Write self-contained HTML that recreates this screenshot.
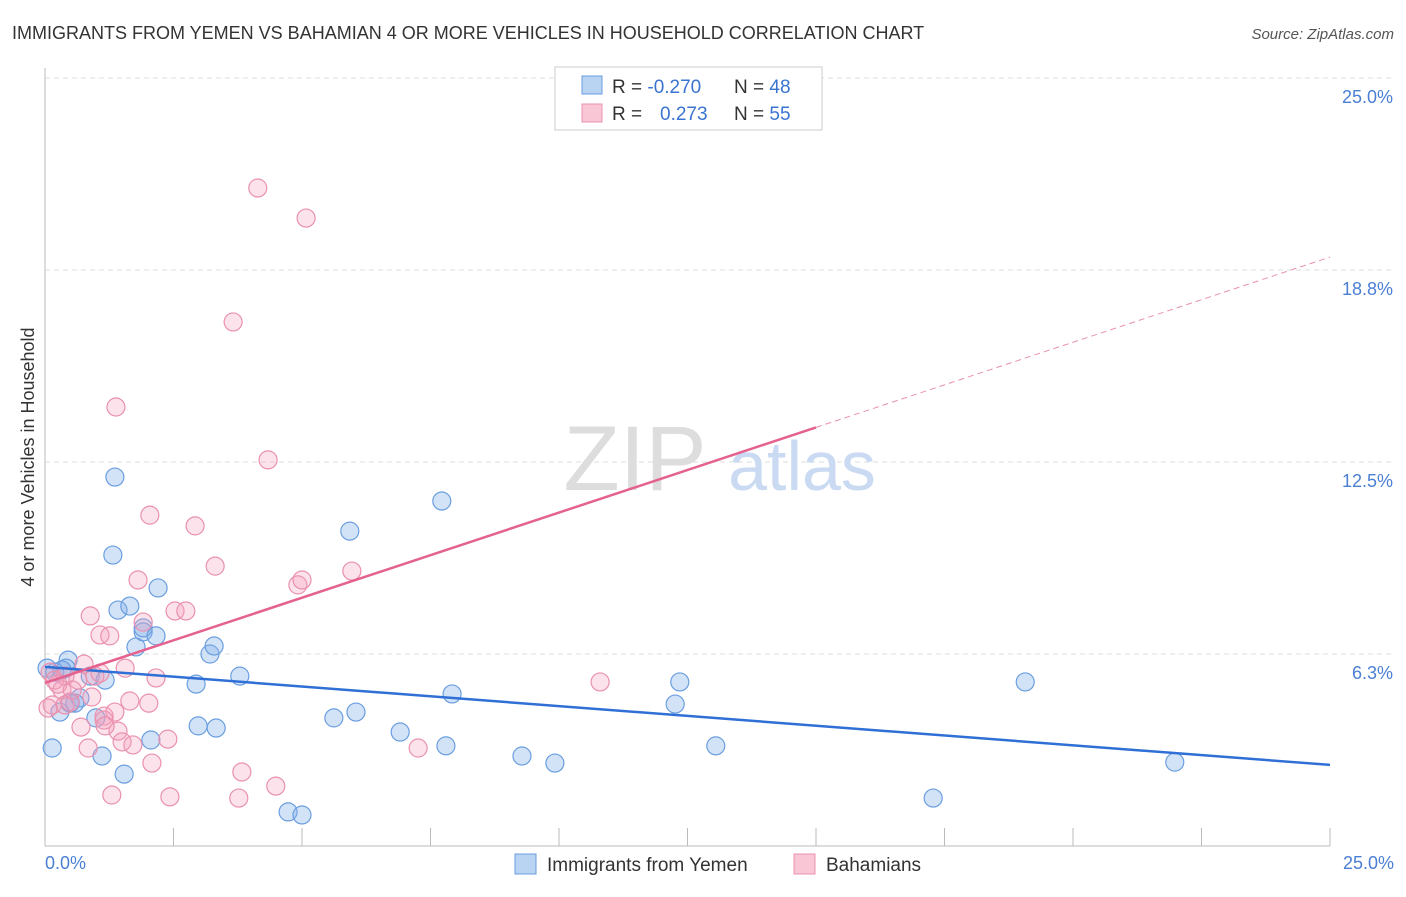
<!DOCTYPE html>
<html><head><meta charset="utf-8"><style>
body{margin:0;background:#fff;font-family:"Liberation Sans",sans-serif}
svg text{font-family:"Liberation Sans",sans-serif}
</style></head><body>
<svg id="chart" width="1406" height="892">
<text x="12" y="39" font-size="18" fill="#333">IMMIGRANTS FROM YEMEN VS BAHAMIAN 4 OR MORE VEHICLES IN HOUSEHOLD CORRELATION CHART</text>
<text x="1394" y="39" font-size="15" fill="#555" font-style="italic" text-anchor="end">Source: ZipAtlas.com</text>
<g id="grid"></g>
<g><text x="635" y="490" font-size="92" fill="#ddd" font-family="Liberation Serif" text-anchor="middle">ZIP</text><text x="802" y="490" font-size="70" fill="#c9daf2" text-anchor="middle">atlas</text></g>
<line x1="45" y1="68" x2="45" y2="846" stroke="#bbb"/>
<line x1="45" y1="846" x2="1330" y2="846" stroke="#bbb"/>
<g id="yticks"></g>
<g id="xticks"></g>
<text x="45" y="869" font-size="18" fill="#4a7fd4">0.0%</text>
<text x="1394" y="869" font-size="18" fill="#4a7fd4" text-anchor="end">25.0%</text>
<text transform="translate(34,457) rotate(-90)" font-size="18" fill="#333" text-anchor="middle">4 or more Vehicles in Household</text>
<g id="pts"></g>
<g id="trends"></g>
<g>
<rect x="555" y="67" width="267" height="63" fill="#fff" stroke="#ccc"/>
<rect x="582" y="76" width="20" height="18" fill="#b9d3f3" stroke="#6a9ee0"/>
<rect x="582" y="104" width="20" height="18" fill="#f9c6d6" stroke="#e991ae"/>
<text x="612" y="93" font-size="19" fill="#333">R = <tspan fill="#3a74d0">-0.270</tspan></text>
<text x="734" y="93" font-size="19" fill="#333">N = <tspan fill="#3a74d0">48</tspan></text>
<text x="612" y="120" font-size="19" fill="#333">R = <tspan fill="#3a74d0" x="660">0.273</tspan></text>
<text x="734" y="120" font-size="19" fill="#333">N = <tspan fill="#3a74d0">55</tspan></text>
</g>
<g>
<rect x="515" y="854" width="21" height="20" fill="#b9d3f3" stroke="#6a9ee0"/>
<text x="547" y="871" font-size="19" fill="#333">Immigrants from Yemen</text>
<rect x="794" y="854" width="21" height="20" fill="#f9c6d6" stroke="#e991ae"/>
<text x="826" y="871" font-size="19" fill="#333">Bahamians</text>
</g>
</svg>
<script>
const yTicks=[6.25,12.5,18.75,25];
const yTickLabels=["6.3%","12.5%","18.8%","25.0%"];
const xTickVals=[0,2.5,5,7.5,10,12.5,15,17.5,20,22.5,25];
const yemenX=[0.04,0.19,0.29,0.14,0.45,0.41,0.68,0.58,0.88,0.99,1.11,1.17,1.32,1.36,1.42,1.54,1.65,1.77,1.91,1.91,2.06,2.16,2.20,2.94,2.98,3.21,3.29,3.33,3.79,4.73,5.00,5.62,5.93,6.05,6.91,7.72,7.80,7.92,9.28,9.92,12.26,12.35,13.05,17.28,19.07,21.98,0.33,0.49];
const yemenY=[5.79,5.66,4.36,3.19,6.05,5.79,4.82,4.65,5.53,4.17,2.93,5.40,9.47,12.01,7.68,2.34,7.81,6.48,6.97,7.10,3.45,6.84,8.40,5.27,3.91,6.25,6.51,3.84,5.53,1.11,1.01,4.17,10.25,4.36,3.71,11.23,3.26,4.95,2.93,2.70,4.62,5.34,3.26,1.56,5.34,2.73,5.73,4.65];
const bahX=[4.14,5.08,3.66,1.38,4.34,2.04,2.92,3.31,1.81,4.92,5.00,5.97,0.88,1.91,2.53,2.74,1.07,1.26,0.76,1.56,2.16,10.80,0.10,0.19,0.39,0.64,0.97,1.07,0.33,0.14,0.91,1.65,2.02,0.39,0.49,0.70,1.15,1.36,1.42,1.15,1.50,1.71,2.39,2.08,0.84,3.83,4.49,1.30,2.43,3.77,7.26,0.06,0.25,0.53,1.17];
const bahY=[21.42,20.44,17.06,14.29,12.57,10.77,10.42,9.11,8.66,8.50,8.66,8.95,7.49,7.29,7.65,7.65,6.87,6.84,5.92,5.79,5.47,5.34,5.66,5.40,5.53,5.40,5.53,5.63,5.08,4.59,4.85,4.72,4.65,4.59,4.69,3.87,4.23,4.36,3.74,4.10,3.39,3.29,3.48,2.70,3.19,2.41,1.95,1.66,1.60,1.56,3.19,4.49,5.27,5.08,3.91];
const yemenTrend=[5.83,2.64];
const bahTrend=[5.31,19.17];
const bahSolidEnd=15;
const NS="http://www.w3.org/2000/svg";
const sx=v=>45+v*51.4, sy=v=>846-v*30.72;
function mk(t,a,p){const e=document.createElementNS(NS,t);for(const k in a)e.setAttribute(k,a[k]);document.getElementById(p).appendChild(e);return e;}
yTicks.forEach((v,i)=>{
 const l=mk('line',{x1:45,x2:1394,y1:sy(v),y2:sy(v),stroke:'#ddd','stroke-dasharray':'5,4'},'grid');
 
 
 const t=mk('text',{x:1393,y:sy(v)+25,'font-size':18,fill:'#4a7fd4','text-anchor':'end'},'yticks');
 t.textContent=yTickLabels[i];
 
 
});
xTickVals.forEach(v=>{
 const l=mk('line',{x1:sx(v),x2:sx(v),y1:828,y2:846,stroke:'#bbb'},'xticks');
 
 
});
function pts(X,Y,fill,stroke,name){X.forEach((x,i)=>{
 const c=mk('circle',{cx:sx(x),cy:sy(Y[i]),r:9,fill:fill,stroke:stroke,'stroke-width':1.2},'pts');
 
 
});}
pts(yemenX,yemenY,'rgba(130,175,232,0.35)','#6a9ee0','yemen-point');
pts(bahX,bahY,'rgba(244,160,190,0.3)','#e991ae','bahamian-point');
let l=mk('line',{x1:sx(0),y1:sy(yemenTrend[0]),x2:sx(25),y2:sy(yemenTrend[1]),stroke:'#2f6fd6','stroke-width':2.5},'trends');


const bAt=x=>bahTrend[0]+(bahTrend[1]-bahTrend[0])*x/25;
l=mk('line',{x1:sx(0),y1:sy(bAt(0)),x2:sx(bahSolidEnd),y2:sy(bAt(bahSolidEnd)),stroke:'#e5628e','stroke-width':2.5},'trends');


l=mk('line',{x1:sx(bahSolidEnd),y1:sy(bAt(bahSolidEnd)),x2:sx(25),y2:sy(bAt(25)),stroke:'#e991ae','stroke-width':1,'stroke-dasharray':'6,4'},'trends');


</script>
</body></html>
